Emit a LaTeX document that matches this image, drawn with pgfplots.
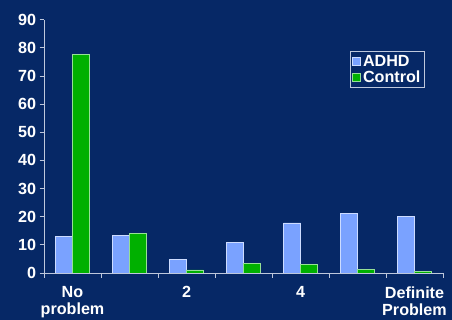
\documentclass[border=0pt]{standalone}
\usepackage{pgfplots}
\pgfplotsset{compat=1.18}
\usepackage{fontspec}
\setmainfont{Liberation Sans}
\definecolor{bg}{RGB}{6,40,102}
\definecolor{adhd}{RGB}{122,162,255}
\definecolor{adhdedge}{RGB}{205,220,255}
\definecolor{ctrl}{RGB}{0,176,0}
\definecolor{ctrledge}{RGB}{150,225,150}
\definecolor{axcol}{RGB}{190,200,220}
\begin{document}
\begin{tikzpicture}
\fill[bg] (0,0) rectangle (452bp,320bp);
\useasboundingbox (0,0) rectangle (452bp,320bp);
\begin{axis}[
  at={(44bp,47bp)}, anchor=south west,
  scale only axis, width=399bp, height=253.3bp,
  xmin=0.5, xmax=7.5, ymin=0, ymax=90,
  axis x line=bottom, axis y line=left,
  axis line style={-, draw=axcol, line width=0.8bp},
  tick style={draw=axcol, line width=0.8bp},
  tick align=outside, major tick length=4.5bp,
  ytick={0,10,...,90},
  xtick={0.5,1.5,...,7.5}, xticklabels={},
  extra x ticks={1,3,5,7},
  extra x tick labels={{No\\problem},2,4,{Definite\\Problem}},
  extra x tick style={major tick length=0pt},
  xticklabel style={align=center, yshift=-10bp},
  ticklabel style={text=white, font=\fontsize{16.2}{17}\selectfont\bfseries},
  /pgf/number format/assume math mode=true,
  ybar=0pt, bar width=16.8bp,
  legend style={at={(0.767,0.876)}, anchor=north west, fill=bg, draw=axcol,
    line width=0.8bp, text=white, font=\fontsize{16.2}{18.5}\selectfont\bfseries,
    inner xsep=2bp, inner ysep=1.5bp, row sep=-1bp, cells={anchor=west}},
  legend image code/.code={\draw[#1, line width=0.6bp] (0bp,-4bp) rectangle (8bp,4bp);},
]
\addplot[fill=adhd, draw=adhdedge, line width=0.8bp] coordinates {(1,13.0) (2,13.4) (3,4.9) (4,11.0) (5,17.8) (6,21.0) (7,20.1)};
\addplot[fill=ctrl, draw=ctrledge, line width=0.8bp] coordinates {(1,77.7) (2,14.1) (3,1.1) (4,3.3) (5,3.1) (6,1.4) (7,0.6)};
\legend{ADHD, Control}
\end{axis}
\end{tikzpicture}
\end{document}
